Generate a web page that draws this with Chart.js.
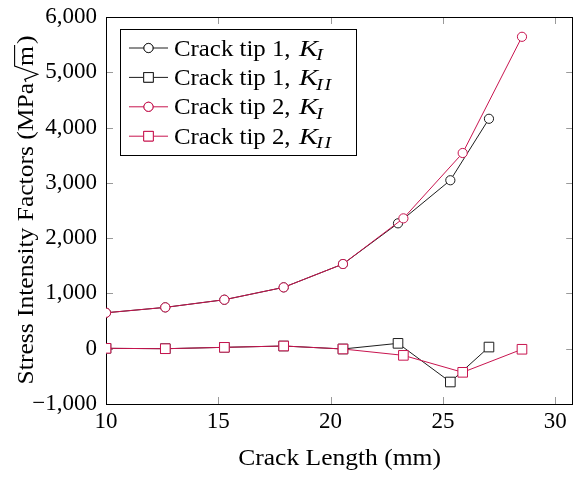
<!DOCTYPE html>
<html>
<head>
<meta charset="utf-8">
<script src="https://cdn.jsdelivr.net/npm/chart.js@4.4.1/dist/chart.umd.min.js"></script>
<style>
  html, body { margin: 0; background: #fff; overflow: hidden; }
  #wrap { width: 573px; height: 477px; overflow: hidden; }
</style>
</head>
<body>
<!-- canvas is a few px wider than the page: chart.js keeps a point-radius gap on the right -->
<div id="wrap"><canvas id="sifChart" width="581" height="477"></canvas></div>
<script>
// crack lengths (mm) for each tip
var crackLength1 = [10, 12.64, 15.27, 17.91, 20.55, 23.0, 25.33, 27.05];
var crackLength2 = [10, 12.64, 15.27, 17.91, 20.55, 23.24, 25.88, 28.52];
// stress intensity factors (MPa sqrt(m))
var kI1  = [650, 748, 886, 1110, 1532, 2268, 3047, 4159];
var kII1 = [7, 0, 25, 49, -5, 97, -602, 30];
var kI2  = [650, 748, 886, 1110, 1532, 2358, 3540, 5642];
var kII2 = [7, 0, 25, 49, -5, -120, -427, -10];

var seriesNames = ['Crack tip 1, ', 'Crack tip 1, ', 'Crack tip 2, ', 'Crack tip 2, '];
var seriesSubs  = ['I', 'II', 'I', 'II'];

var BLACK = '#1e1e1e';
var RED = '#c8144f';
var FONT = '"Liberation Serif", "Times New Roman", serif';
var FS = 23;
var STRETCH = 1.11; // computer modern is a bit wider than times

function pts(xs, ys) {
  return xs.map(function (x, i) { return { x: x, y: ys[i] }; });
}

function fmt(v) {
  return (v < 0 ? '\u2212' : '') + Math.abs(v).toLocaleString('en-US');
}

function series(label, xs, ys, color, marker, order) {
  return {
    label: label,
    data: pts(xs, ys),
    borderColor: color,
    borderWidth: 1,
    pointStyle: marker,
    pointRadius: marker == 'rect' ? 6.8 : 4.6,
    pointBorderColor: color,
    pointBackgroundColor: '#fff',
    pointBorderWidth: 1,
    tension: 0,
    fill: false,
    order: order
  };
}

function noPad(s) {
  s.paddingTop = 0; s.paddingBottom = 0;
  s.paddingLeft = 0; s.paddingRight = 0;
}

// draws the K with italic subscript
function drawK(ctx, x, y, sub, fs) {
  ctx.font = 'italic ' + fs + 'px ' + FONT;
  ctx.save();
  ctx.translate(x, y);
  ctx.scale(1.15, 1);
  ctx.fillText('K', 0, 0);
  var wk = ctx.measureText('K').width;
  ctx.font = 'italic ' + Math.round(fs * 0.7) + 'px ' + FONT;
  ctx.fillText(sub.split('').join('\u200A'), wk - 1.5, fs * 0.2);
  ctx.restore();
}

var texFrame = {
  id: 'texFrame',
  beforeDatasetsDraw: function (chart) {
    var ctx = chart.ctx, a = chart.chartArea;
    var xs = chart.scales.x, ys = chart.scales.y;
    var tl = 7;
    ctx.save();
    ctx.strokeStyle = '#9a9a9a';
    ctx.lineWidth = 1;
    ctx.beginPath();
    xs.ticks.forEach(function (t) {
      var px = Math.round(xs.getPixelForValue(t.value)) + 0.5;
      ctx.moveTo(px, a.bottom); ctx.lineTo(px, a.bottom - tl);
      ctx.moveTo(px, a.top); ctx.lineTo(px, a.top + tl);
    });
    ys.ticks.forEach(function (t) {
      var py = Math.round(ys.getPixelForValue(t.value)) + 0.5;
      ctx.moveTo(a.left, py); ctx.lineTo(a.left + tl, py);
      ctx.moveTo(a.right, py); ctx.lineTo(a.right - tl, py);
    });
    ctx.stroke();
    ctx.strokeStyle = '#000';
    ctx.strokeRect(Math.round(a.left) + 0.5, Math.round(a.top) + 0.5,
      Math.round(a.right - a.left) - 1, Math.round(a.bottom - a.top));
    ctx.restore();
  },
  afterDraw: function (chart) {
    var ctx = chart.ctx, a = chart.chartArea;
    ctx.save();
    ctx.fillStyle = '#000';
    ctx.textBaseline = 'alphabetic';

    // x title
    ctx.save();
    ctx.translate((a.left + a.right) / 2, 465);
    ctx.scale(STRETCH, 1);
    ctx.font = FS + 'px ' + FONT;
    ctx.textAlign = 'center';
    ctx.fillText('Crack Length (mm)', 0, 0);
    ctx.restore();

    // y title, rotated, with a square root drawn by hand
    ctx.save();
    ctx.translate(33, (a.top + a.bottom) / 2);
    ctx.rotate(-Math.PI / 2);
    ctx.scale(STRETCH, 1);
    ctx.textAlign = 'left';
    ctx.font = FS + 'px ' + FONT;
    var t1 = 'Stress Intensity Factors (MPa';
    var w1 = ctx.measureText(t1).width;
    var wr = FS * 0.62;
    var wm = ctx.measureText('m').width;
    var wp = ctx.measureText(')').width;
    var x0 = -(w1 + wr + wm + wp + 2) / 2;
    ctx.fillText(t1, x0, 0);
    var rx = x0 + w1 + 1;
    ctx.strokeStyle = '#000';
    ctx.lineWidth = 1.1;
    ctx.beginPath();
    ctx.moveTo(rx, -FS * 0.30);
    ctx.lineTo(rx + FS * 0.1, -FS * 0.36);
    ctx.lineTo(rx + FS * 0.3, FS * 0.2);
    ctx.lineTo(rx + wr, -FS * 0.8);
    ctx.lineTo(rx + wr + wm + 1, -FS * 0.8);
    ctx.stroke();
    ctx.fillText('m', rx + wr, 0);
    ctx.fillText(')', rx + wr + wm + 2, 0);
    ctx.restore();

    // legend box
    var lx = 120.5, ly = 29.5, lw = 236, lh = 126;
    ctx.fillStyle = '#fff';
    ctx.fillRect(lx, ly, lw, lh);
    ctx.strokeStyle = '#000';
    ctx.lineWidth = 1;
    ctx.strokeRect(lx, ly, lw, lh);
    var ds = chart.data.datasets;
    for (var i = 0; i < ds.length; i++) {
      var cy = 48 + i * 29.4;
      var d = ds[i];
      ctx.strokeStyle = d.borderColor;
      ctx.lineWidth = 1;
      ctx.beginPath();
      ctx.moveTo(129, cy); ctx.lineTo(168, cy);
      ctx.stroke();
      Chart.helpers.drawPoint(ctx, {
        pointStyle: d.pointStyle, radius: d.pointRadius, borderWidth: 1, rotation: 0
      }, 148.5, cy);
      ctx.fillStyle = '#fff';
      ctx.fill();
      ctx.stroke();
      ctx.fillStyle = '#000';
      ctx.save();
      ctx.translate(174, cy + 7.5);
      ctx.scale(1.08, 1);
      ctx.font = FS + 'px ' + FONT;
      ctx.textAlign = 'left';
      ctx.fillText(seriesNames[i], 0, 0);
      var xk = ctx.measureText(seriesNames[i]).width + 2;
      drawK(ctx, xk, 0, seriesSubs[i], FS);
      ctx.restore();
    }
    ctx.restore();
  }
};

var ctx1 = document.getElementById('sifChart').getContext('2d');
new Chart(ctx1, {
  type: 'line',
  data: {
    datasets: [
      series('Crack tip 1, K_I', crackLength1, kI1, BLACK, 'circle', 3),
      series('Crack tip 1, K_II', crackLength1, kII1, BLACK, 'rect', 2),
      series('Crack tip 2, K_I', crackLength2, kI2, RED, 'circle', 1),
      series('Crack tip 2, K_II', crackLength2, kII2, RED, 'rect', 0)
    ]
  },
  options: {
    responsive: false,
    animation: false,
    layout: { padding: { top: 17, right: 1, left: 0, bottom: 0 } },
    plugins: {
      legend: { display: false },
      tooltip: { enabled: false }
    },
    scales: {
      x: {
        type: 'linear',
        min: 10,
        max: 30.8,
        afterFit: function (s) { s.height = 73; noPad(s); },
        grid: { display: false, drawTicks: false },
        border: { display: false },
        ticks: {
          stepSize: 5,
          includeBounds: false,
          padding: 4,
          color: '#000',
          font: { family: FONT, size: FS },
          maxRotation: 0
        }
      },
      y: {
        min: -1000,
        max: 6000,
        afterFit: function (s) { s.width = 106; noPad(s); },
        grid: { display: false, drawTicks: false },
        border: { display: false },
        ticks: {
          stepSize: 1000,
          padding: 9,
          color: '#000',
          font: { family: FONT, size: FS },
          callback: function (v) { return fmt(v); }
        }
      }
    }
  },
  plugins: [texFrame]
});
</script>
</body>
</html>
